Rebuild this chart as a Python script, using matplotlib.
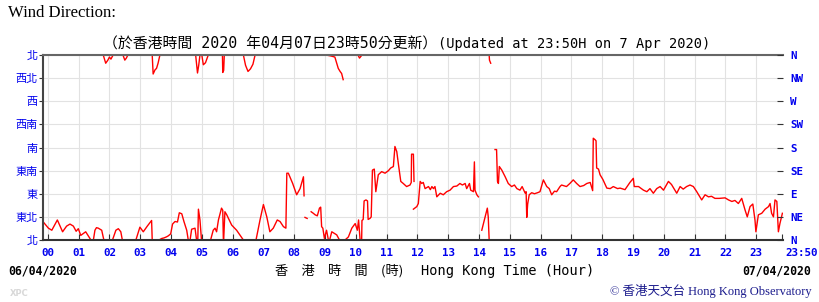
import numpy as np
import matplotlib
matplotlib.use('Agg')
import matplotlib.pyplot as plt
import matplotlib.transforms as mtransforms

nan = np.nan

# wind direction trace (hours, degrees); nan = break where the line wraps past north
hour = [
    -0.16, 0.02, 0.13, 0.31, 0.48, 0.61, 0.72, 0.83, 0.92, 0.99, 1.07, 1.23, 1.37, 1.40, nan,
    1.48, 1.53, 1.58, 1.64, 1.75, 1.82, nan,
    1.80, 1.88, 1.95, 2.00, 2.05, 2.12, nan,
    2.10, 2.21, 2.29, 2.37, 2.42, nan,
    2.44, 2.50, 2.55, 2.60, nan,
    2.86, 2.99, 3.10, 3.23, 3.37, 3.39, nan,
    3.39, 3.42, 3.48, 3.53, 3.58, 3.64, nan,
    3.64, 3.70, 3.77, 3.85, 3.91, 3.99, 4.05, 4.13, 4.21, 4.27, 4.35, 4.42, 4.51, 4.56, nan,
    4.62, 4.67, 4.78, 4.83, nan,
    4.80, 4.86, 4.90, 4.94, nan,
    4.87, 4.89, 4.94, 4.99, nan,
    5.00, 5.05, 5.12, 5.21, nan,
    5.29, 5.37, 5.43, 5.48, 5.54, 5.64, 5.68, 5.70, nan,
    5.67, 5.68, 5.71, 5.73, nan,
    5.71, 5.75, 5.81, 5.97, 6.13, 6.29, 6.35, nan,
    6.35, 6.42, 6.50, 6.58, 6.66, 6.73, nan,
    6.76, 6.89, 7.00, 7.11, 7.21, 7.32, 7.45, 7.54, 7.65, 7.73, 7.76, 7.81, 7.95, 8.08, 8.19,
    8.30, 8.32, nan,
    8.35, 8.42, nan,
    8.55, 8.62, 8.68, 8.75, 8.82, 8.86, 8.89, 8.93, 8.98, 9.05, 9.11, nan,
    9.03, 9.20, 9.32, 9.38, 9.43, 9.49, 9.54, 9.59, nan,
    9.15, 9.22, 9.30, 9.38, 9.47, nan,
    9.65, 9.76, 9.87, 9.98, 10.05, 10.09, 10.14, nan,
    10.07, 10.12, 10.16, 10.20, nan,
    10.19, 10.20, 10.24, 10.27, 10.33, 10.38, 10.40, 10.46, 10.50, 10.52, 10.54, 10.60, 10.65,
    10.73, 10.84, 10.95, 11.06, 11.13, 11.22, 11.27, 11.33, 11.38, 11.46, 11.54, 11.65, 11.76,
    11.80, 11.81, 11.87, 11.89, nan,
    11.87, 11.98, 12.03, 12.09, 12.14, 12.19, 12.25, 12.36, 12.42, 12.47, 12.52, 12.57, 12.63,
    12.74, 12.84, 12.95, 13.06, 13.17, 13.28, 13.38, 13.46, 13.55, 13.60, 13.69, 13.73, 13.82,
    13.85, 13.87, 13.93, 13.98, nan,
    14.09, 14.20, 14.27, 14.30, 14.33, nan,
    14.33, 14.34, 14.38, nan,
    14.52, 14.57, 14.60, 14.63, 14.66, 14.74, 14.85, 14.95, 15.06, 15.15, 15.23, 15.33, 15.40,
    15.50, 15.53, 15.55, 15.58, 15.63, 15.71, 15.80, 15.90, 15.98, 16.09, 16.15, 16.20, 16.28,
    16.36, 16.45, 16.52, 16.63, 16.68, 16.84, 16.95, 17.06, 17.17, 17.28, 17.40, 17.50, 17.61,
    17.69, 17.71, 17.77, 17.80, 17.82, 17.88, 17.93, 18.02, 18.15, 18.26, 18.36, 18.50, 18.58,
    18.74, 18.90, 19.01, 19.04, 19.18, 19.34, 19.45, 19.55, 19.66, 19.77, 19.88, 19.99, 20.15,
    20.25, 20.42, 20.53, 20.63, 20.74, 20.85, 20.96, 21.07, 21.23, 21.34, 21.45, 21.55, 21.66,
    21.80, 21.99, 22.10, 22.21, 22.31, 22.42, 22.53, 22.64, 22.71, 22.80, 22.89, 22.96, 22.99,
    23.07, 23.18, 23.29, 23.40, 23.45, 23.50, 23.56, 23.61, 23.67, 23.72, 23.77, 23.85,
]
direction = [
    36, 23, 19, 39, 16, 27, 31, 27, 17, 22, 9, 16, 3, 0, nan,
    0, 19, 24, 23, 19, 0, nan,
    360, 344, 350, 356, 352, 360, nan,
    0, 19, 22, 16, 0, nan,
    360, 350, 354, 360, nan,
    0, 25, 16, 27, 38, 0, nan,
    360, 323, 331, 334, 344, 360, nan,
    1, 3, 4, 6, 8, 12, 31, 36, 35, 53, 51, 36, 19, 0, nan,
    0, 21, 23, 0, nan,
    360, 325, 340, 360, nan,
    0, 60, 39, 0, nan,
    360, 341, 345, 360, nan,
    1, 19, 23, 16, 39, 62, 58, 0, nan,
    360, 326, 330, 360, nan,
    0, 55, 49, 29, 19, 5, 0, nan,
    360, 340, 328, 333, 342, 360, nan,
    0, 39, 69, 45, 16, 23, 39, 36, 26, 23, 130, 130, 110, 88, 100,
    123, 86, nan,
    44, 42, nan,
    55, 52, 49, 47, 62, 64, 26, 23, 3, 19, 0, nan,
    360, 358, 356, 344, 334, 328, 324, 312, nan,
    0, 16, 13, 10, 0, nan,
    0, 6, 23, 32, 19, 39, 0, nan,
    360, 354, 357, 360, nan,
    0, 38, 40, 76, 78, 76, 40, 42, 45, 88, 136, 138, 94,
    127, 133, 130, 135, 140, 143, 182, 172, 149, 114, 110, 104, 107,
    112, 167, 167, 114, nan,
    60, 65, 71, 114, 110, 112, 100, 104, 98, 104, 100, 104, 84,
    91, 88, 94, 97, 104, 105, 110, 107, 110, 100, 110, 97, 94,
    152, 97, 88, 84, nan,
    19, 45, 62, 45, 0, nan,
    360, 350, 344, nan,
    176, 176, 114, 110, 143, 136, 123, 110, 104, 107, 100, 97, 104,
    91, 94, 44, 70, 88, 92, 90, 92, 94, 117, 110, 104, 100,
    88, 95, 94, 104, 107, 104, 110, 117, 110, 104, 106, 110, 112,
    96, 198, 195, 193, 140, 138, 127, 118, 101, 100, 104, 100, 101,
    98, 112, 120, 104, 104, 97, 94, 100, 91, 100, 104, 97, 114,
    108, 91, 104, 99, 104, 107, 104, 94, 78, 88, 84, 85, 81,
    81, 82, 78, 75, 77, 71, 81, 58, 45, 65, 70, 39, 16,
    49, 52, 60, 65, 71, 52, 45, 78, 75, 16, 32, 52,
]

dir_ticks = [0, 45, 90, 135, 180, 225, 270, 315, 360]
dir_cn = ['北', '東北', '東', '東南', '南', '西南', '西', '西北', '北']
dir_en = ['N', 'NE', 'E', 'SE', 'S', 'SW', 'W', 'NW', 'N']
hour_ticks = list(range(24)) + [23 + 50 / 60]
hour_labels = ['%02d' % h for h in range(24)] + ['23:50']

BLUE = '#0000ee'
W, H = 820, 302

fig = plt.figure(figsize=(W / 100, H / 100), dpi=100)
ax = fig.add_axes([43 / W, 62 / H, 740 / W, 185 / H])

ax.plot(hour, direction, color='#ff0000', lw=1.0)
ax.set_xlim(-0.156, 23.87)
ax.set_ylim(0, 360)

ax.set_xticks(hour_ticks)
ax.set_xticklabels(hour_labels, family='DejaVu Sans Mono', weight='bold',
                   fontsize=7.8, color=BLUE)
ax.set_yticks(dir_ticks)
ax.set_yticklabels(dir_cn, family='Noto Sans CJK TC', fontsize=8, color=BLUE)
ax.tick_params(axis='x', direction='in', length=4, pad=6, color='#333333')
ax.tick_params(axis='y', direction='out', length=3, pad=1, color='#333333')

# last label "23:50" sits to the right of its tick
last = ax.get_xticklabels()[-1]
last.set_ha('left')
last.set_transform(last.get_transform() +
                   mtransforms.ScaledTranslation(4 / 100, 0, fig.dpi_scale_trans))

ax.grid(True, color='#e2e2e2', lw=0.8)
ax.get_xgridlines()[-1].set_visible(False)
ax.set_axisbelow(True)

ax.spines['right'].set_visible(False)
ax.spines['top'].set_color('#666666')
ax.spines['left'].set_color('#444444')
ax.spines['bottom'].set_color('#333333')
for s in ['top', 'left', 'bottom']:
    ax.spines[s].set_linewidth(1.5)

ax2 = ax.twinx()
ax2.set_ylim(0, 360)
ax2.set_yticks(dir_ticks)
ax2.set_yticklabels(dir_en, family='DejaVu Sans Mono', weight='bold',
                    fontsize=7.8, color=BLUE)
ax2.tick_params(axis='y', direction='in', length=4, pad=5, color='#333333')
for s in ax2.spines.values():
    s.set_visible(False)


def px(x, y):
    return x / W, 1 - y / H


fig.text(*px(8, 13), 'Wind Direction:', family='Liberation Serif', fontsize=12,
         va='center', ha='left')
fig.text(*px(437, 44), '（於香港時間 2020 年04月07日23時50分更新）',
         family=['DejaVu Sans Mono', 'Noto Sans CJK TC'], fontsize=10.7,
         va='center', ha='right')
fig.text(*px(438, 44), '(Updated at 23:50H on 7 Apr 2020)',
         family='DejaVu Sans Mono', fontsize=9.8, va='center', ha='left')

fig.text(*px(8, 271), '06/04/2020', family='DejaVu Sans Mono', weight='bold',
         fontsize=8.3, va='center', ha='left')
fig.text(*px(811, 271), '07/04/2020', family='DejaVu Sans Mono', weight='bold',
         fontsize=8.3, va='center', ha='right')
fig.text(*px(403, 271), '香　港　時　間　(時)', family='Noto Sans CJK TC',
         fontsize=9.5, va='center', ha='right')
fig.text(*px(421, 271), 'Hong Kong Time (Hour)', family='DejaVu Sans Mono',
         fontsize=9.8, va='center', ha='left')

fig.text(*px(812, 291), '© 香港天文台 Hong Kong Observatory',
         family=['Liberation Serif', 'Noto Sans CJK TC'], fontsize=9,
         color='#1a1a8c', va='center', ha='right')
fig.text(*px(10, 293), 'XPC', family='DejaVu Sans', weight='bold', fontsize=6,
         color='#d8d8d8', va='center', ha='left')

fig.savefig('out.png', dpi=100)
